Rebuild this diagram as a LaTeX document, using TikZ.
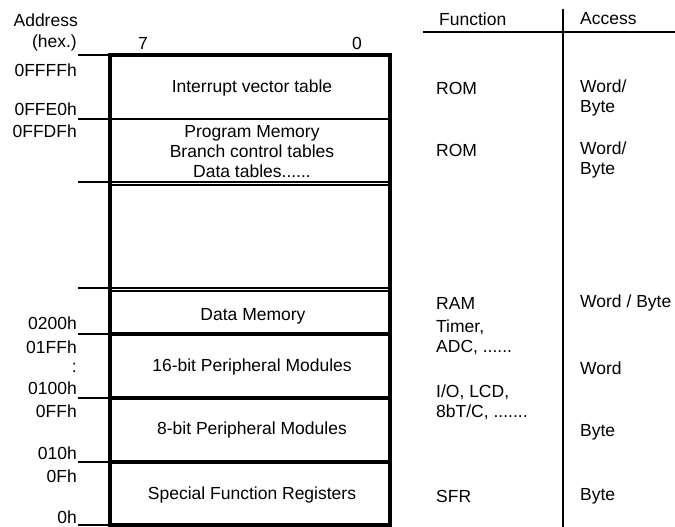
\documentclass[tikz,border=0pt]{standalone}
\usepackage{fontspec}
\setmainfont{Liberation Sans}
\tikzset{
	txt/.style={inner sep=0pt, font=\fontsize{17.5}{20}\selectfont},
	addr/.style={txt, anchor=east},
	fn/.style={txt, anchor=west, align=left},
	blk/.style={txt, align=center},
	thin/.style={line width=1.2pt},
	thick/.style={line width=3.2pt}
}
\begin{document}
\begin{tikzpicture}[x=1pt, y=-1pt]
	\useasboundingbox (0,0) rectangle (675,527);
	% left address column lines
	\draw[thin] (78,55) -- (110,55);
	\draw[thin] (78,119) -- (390,119);
	\draw[thin] (78,182) -- (390,182);
	\draw[thin] (110,185) -- (390,185);
	\draw[thin] (78,288) -- (390,288);
	\draw[thin] (110,291) -- (390,291);
	\draw[thin] (78,334) -- (110,334);
	\draw[thin] (78,398) -- (110,398);
	\draw[thin] (78,462) -- (110,462);
	\draw[thin] (78,525) -- (110,525);
	%
	\draw[thick] (110,334) -- (390,334);
	\draw[thick] (110,398) -- (390,398);
	\draw[thick] (110,462) -- (390,462);
	\draw[thick] (110,525) -- (110,55) -- (390,55) -- (390,525) -- cycle;
	% right table
	\draw[thick, line width=2.4pt] (423,32) -- (675,32);
	\draw[thin] (563,9) -- (563,527);
	%
	\node[addr] at (78,20)   (hdA) {Address};
	\node[addr] at (77,43)   (hdB) {(hex.)};
	\node[txt] at (143,43)   (b7) {7};
	\node[txt] at (357,43)   (b0) {0};
	\node[fn] at (439,19)    (hdF) {Function};
	\node[fn] at (580,19)    (hdC) {Access};
	%
	\node[addr] at (77,70)   (a1) {0FFFFh};
	\node[addr] at (77,109)  (a2) {0FFE0h};
	\node[addr] at (77,131)  (a3) {0FFDFh};
	\node[addr] at (77,323)  (a4) {0200h};
	\node[addr] at (77,347)  (a5) {01FFh};
	\node[addr] at (77,368)  (a6) {:};
	\node[addr] at (77,388)  (a7) {0100h};
	\node[addr] at (77,411)  (a8) {0FFh};
	\node[addr] at (77,453)  (a9) {010h};
	\node[addr] at (77,476)  (a10) {0Fh};
	\node[addr] at (77,517)  (a11) {0h};
	%
	\node[blk] at (252,88)   (m1) {Interrupt vector table};
	\node[blk] at (252,152)  (m2) {Program Memory\\Branch control tables\\Data tables......};
	\node[blk] at (253,316)  (m3) {Data Memory};
	\node[blk] at (252,367)  (m4) {16-bit Peripheral Modules};
	\node[blk] at (252,430)  (m5) {8-bit Peripheral Modules};
	\node[blk] at (252,495)  (m6) {Special Function Registers};
	%
	\node[fn] at (436,88)    (f1) {ROM};
	\node[fn] at (436,150)   (f2) {ROM};
	\node[fn] at (436,303)   (f3) {RAM};
	\node[fn] at (436,337.5) (f4) {Timer,\\ADC, ......};
	\node[fn] at (436,402)   (f5) {I/O, LCD,\\8bT/C, .......};
	\node[fn] at (436,496)   (f6) {SFR};
	%
	\node[fn] at (580,98)    (c1) {Word/\\Byte};
	\node[fn] at (580,160)   (c2) {Word/\\Byte};
	\node[fn] at (580,303)   (c3) {Word / Byte};
	\node[fn] at (580,368)   (c4) {Word};
	\node[fn] at (580,432)   (c5) {Byte};
	\node[fn] at (580,496)   (c6) {Byte};
\end{tikzpicture}
\end{document}
